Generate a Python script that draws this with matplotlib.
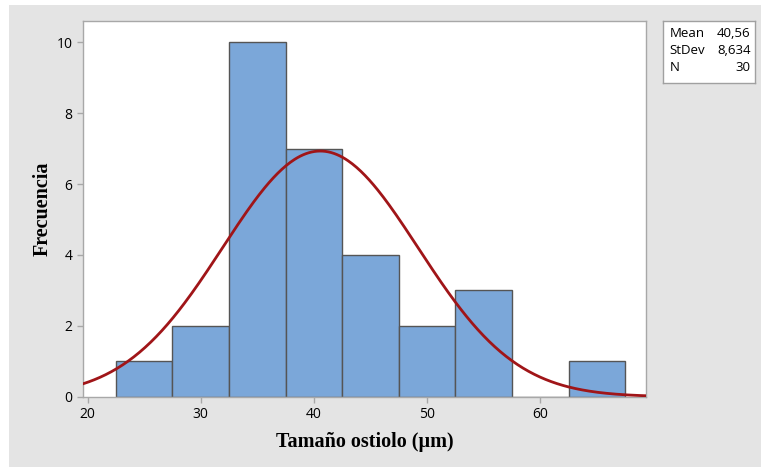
import numpy as np
import matplotlib
matplotlib.use("Agg")
import matplotlib.pyplot as plt
from matplotlib.patches import Rectangle

# Data
bin_edges = [22.5, 27.5, 32.5, 37.5, 42.5, 47.5, 52.5, 57.5, 62.5, 67.5]
counts = [1, 2, 10, 7, 4, 2, 3, 0, 1]
mean_val = 40.56
sd_val = 8.634
n_val = 30
x_ticks = [20, 30, 40, 50, 60]
y_ticks = [0, 2, 4, 6, 8, 10]
stats_labels = ["Mean", "StDev", "N"]
stats_values = ["40,56", "8,634", "30"]

fig = plt.figure(figsize=(7.61, 4.67), dpi=100)
fig.patch.set_facecolor("white")
fig.patches.append(Rectangle((9/761, 0), 1, (467-5)/467, transform=fig.transFigure,
                             facecolor="#e4e4e4", edgecolor="none", zorder=-10))

ax = fig.add_axes([83/761, 1-396.7/467, (645.7-83)/761, (396.7-21)/467])
ax.set_facecolor("white")

widths = np.diff(bin_edges)
ax.bar(bin_edges[:-1], counts, width=widths, align="edge",
       color="#7ba7d9", edgecolor="#555555", linewidth=1.0, zorder=2)

xmin, xmax = 19.6, 69.3
xs = np.linspace(xmin, xmax, 400)
bw = widths[0]
ys = n_val * bw / (sd_val * np.sqrt(2*np.pi)) * np.exp(-0.5*((xs-mean_val)/sd_val)**2)
ax.plot(xs, ys, color="#a01518", linewidth=2.0, zorder=3)

ax.set_xlim(xmin, xmax)
ax.set_ylim(0, 10.6)
ax.set_xticks(x_ticks)
ax.set_yticks(y_ticks)
for s in ax.spines.values():
    s.set_color("#a8a8a8")
    s.set_linewidth(1.0)
ax.tick_params(axis="both", colors="#a8a8a8", length=4, width=1,
               labelcolor="black", labelsize=10)
for lab in ax.get_xticklabels() + ax.get_yticklabels():
    lab.set_fontfamily("Open Sans")

ax.set_xlabel("Tamaño ostiolo (µm)", fontfamily="Liberation Serif",
              fontweight="bold", fontsize=14.5, labelpad=7)
ax.set_ylabel("Frecuencia", fontfamily="Liberation Serif",
              fontweight="bold", fontsize=14.5, labelpad=3)

# Stats box
bx = fig.add_axes([663/761, 1-83/467, (755-663)/761, (83-21)/467])
bx.set_xticks([]); bx.set_yticks([])
bx.set_facecolor("white")
for s in bx.spines.values():
    s.set_color("#a0a0a0")
    s.set_linewidth(1.0)
row_y = [0.80, 0.525, 0.245]
for yy, l, v in zip(row_y, stats_labels, stats_values):
    bx.text(0.07, yy, l, transform=bx.transAxes, fontsize=9.5,
            fontfamily="Open Sans", va="center", ha="left")
    bx.text(0.95, yy, v, transform=bx.transAxes, fontsize=9.5,
            fontfamily="Open Sans", va="center", ha="right")

fig.savefig("out.png", dpi=100)
